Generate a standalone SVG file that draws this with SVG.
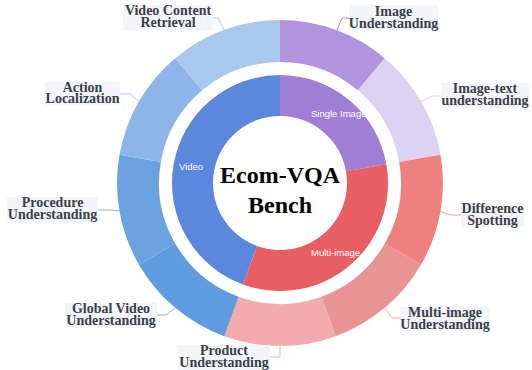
<svg xmlns="http://www.w3.org/2000/svg" width="532" height="370" viewBox="0 0 532 370">
<style>
.lb{fill:#F3F5F9}
.lt{font-family:"Liberation Serif","Times New Roman",serif;font-weight:bold;font-size:14px;fill:#3B3F47;text-anchor:middle}
.il{font-family:"Liberation Sans",Arial,sans-serif;font-size:9.5px;fill:#FFFFFF}
.ct{font-family:"Liberation Serif","Times New Roman",serif;font-weight:bold;font-size:24px;fill:#000000;text-anchor:middle}
.ld{fill:none;stroke-width:1}
</style>
<rect width="532" height="370" fill="#FFFFFF"/>
<g id="inner-ring">
<path id="single-image" d="M280,75 A108,108 0 0 1 386.36,164.25 L345.98,171.37 A67,67 0 0 0 280,116 Z" fill="#A07ED6"/>
<path id="multi-image" d="M386.36,164.25 A108,108 0 0 1 243.06,284.49 L257.08,245.96 A67,67 0 0 0 345.98,171.37 Z" fill="#E85E62"/>
<path id="video" d="M243.06,284.49 A108,108 0 0 1 280,75 L280,116 A67,67 0 0 0 257.08,245.96 Z" fill="#5B88DC"/>
</g>
<g id="outer-ring">
<path d="M280,20 A163,163 0 0 1 384.78,58.14 L357.78,90.31 A121,121 0 0 0 280,62 Z" fill="#B194DD"/>
<path d="M384.78,58.14 A163,163 0 0 1 440.52,154.70 L399.16,161.99 A121,121 0 0 0 357.78,90.31 Z" fill="#DCD2F1"/>
<path d="M440.52,154.70 A163,163 0 0 1 421.16,264.5 L384.79,243.5 A121,121 0 0 0 399.16,161.99 Z" fill="#EF8080"/>
<path d="M421.16,264.5 A163,163 0 0 1 335.75,336.17 L321.38,296.70 A121,121 0 0 0 384.79,243.5 Z" fill="#E89495"/>
<path d="M335.75,336.17 A163,163 0 0 1 224.25,336.17 L238.62,296.70 A121,121 0 0 0 321.38,296.70 Z" fill="#F3ABAB"/>
<path d="M224.25,336.17 A163,163 0 0 1 138.84,264.5 L175.21,243.5 A121,121 0 0 0 238.62,296.70 Z" fill="#5F9BDF"/>
<path d="M138.84,264.5 A163,163 0 0 1 119.48,154.70 L160.84,161.99 A121,121 0 0 0 175.21,243.5 Z" fill="#6AA3E0"/>
<path d="M119.48,154.70 A163,163 0 0 1 175.22,58.14 L202.22,90.31 A121,121 0 0 0 160.84,161.99 Z" fill="#8DB5E7"/>
<path d="M175.22,58.14 A163,163 0 0 1 280,20 L280,62 A121,121 0 0 0 202.22,90.31 Z" fill="#A9C8EE"/>
</g>
<g id="connectors">
<polyline class="ld" stroke="#B194DD" points="337,30 342,18 349,18"/>
<polyline class="ld" stroke="#DCD2F1" points="421,101.5 432,96 441,96"/>
<polyline class="ld" stroke="#F2A0A0" points="440.5,211.5 450,215 461,215"/>
<polyline class="ld" stroke="#EDB0B0" points="384.8,308 392,318 400,318"/>
<polyline class="ld" stroke="#F3ABAB" points="280,346 280,357 270,357"/>
<polyline class="ld" stroke="#8DB5E7" points="175,308 166,315 157,315"/>
<polyline class="ld" stroke="#8DB5E7" points="119.5,211 110,210 98,210"/>
<polyline class="ld" stroke="#A9C8EE" points="139,101.5 130,94 120,94"/>
<polyline class="ld" stroke="#A9C8EE" points="224.3,30 218,18 213,18"/>
</g>
<g id="inner-labels">
<text class="il" x="311" y="117">Single Image</text>
<text class="il" x="179" y="170">Video</text>
<text class="il" x="311" y="256">Multi-image</text>
</g>
<g id="center">
<text class="ct" x="280" y="183">Ecom-VQA</text>
<text class="ct" x="280" y="213">Bench</text>
</g>
<g id="image-understanding">
<rect class="lb" x="349" y="5" width="89" height="25"/>
<text class="lt" x="393.5" y="15.5">Image</text>
<text class="lt" x="393.5" y="27.5">Understanding</text>
</g>
<g id="image-text-understanding">
<rect class="lb" x="441" y="83" width="88" height="25"/>
<text class="lt" x="485" y="93">Image-text</text>
<text class="lt" x="485" y="105">understanding</text>
</g>
<g id="difference-spotting">
<rect class="lb" x="461" y="203" width="63" height="24"/>
<text class="lt" x="492.5" y="212.5">Difference</text>
<text class="lt" x="492.5" y="224.5">Spotting</text>
</g>
<g id="multi-image-understanding">
<rect class="lb" x="400" y="307" width="90" height="24"/>
<text class="lt" x="445" y="316.5">Multi-image</text>
<text class="lt" x="445" y="328.5">Understanding</text>
</g>
<g id="product-understanding">
<rect class="lb" x="178" y="345" width="92" height="25"/>
<text class="lt" x="224" y="355">Product</text>
<text class="lt" x="224" y="367">Understanding</text>
</g>
<g id="global-video-understanding">
<rect class="lb" x="65" y="303" width="92" height="24"/>
<text class="lt" x="111" y="312.5">Global Video</text>
<text class="lt" x="111" y="324.5">Understanding</text>
</g>
<g id="procedure-understanding">
<rect class="lb" x="7" y="197" width="91" height="26"/>
<text class="lt" x="52.5" y="207">Procedure</text>
<text class="lt" x="52.5" y="219">Understanding</text>
</g>
<g id="action-localization">
<rect class="lb" x="45" y="82" width="75" height="23"/>
<text class="lt" x="82.5" y="91.5">Action</text>
<text class="lt" x="82.5" y="103">Localization</text>
</g>
<g id="video-content-retrieval">
<rect class="lb" x="123" y="5" width="90" height="25"/>
<text class="lt" x="168" y="15">Video Content</text>
<text class="lt" x="168" y="27">Retrieval</text>
</g>
</svg>
